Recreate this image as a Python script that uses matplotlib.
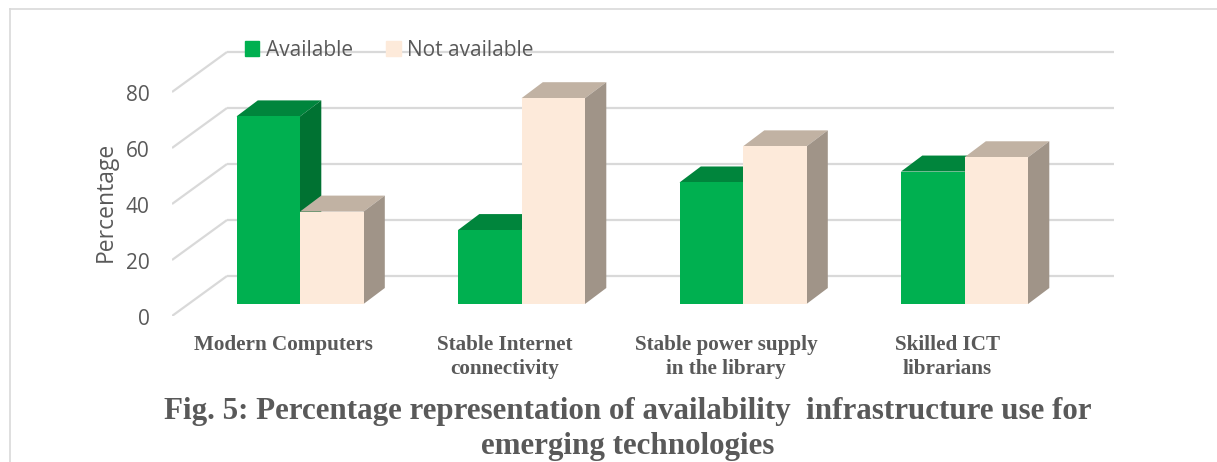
import matplotlib
matplotlib.use("Agg")
import matplotlib.pyplot as plt
from matplotlib.lines import Line2D
from matplotlib.patches import Patch
from matplotlib.transforms import ScaledTranslation

categories = ["Modern Computers", "Stable Internet\nconnectivity",
              "Stable power supply\nin the library", "Skilled ICT\nlibrarians"]
available = [67.0, 26.4, 43.4, 47.3]
not_available = [33.0, 73.5, 56.3, 52.4]
y_ticks = [0, 20, 40, 60, 80]
title = ("Fig. 5: Percentage representation of availability  infrastructure use for\n"
         "emerging technologies")

W, H = 1217, 462
PX_X = 221.5     # pixels per category
PX_Y = 2.8       # pixels per percent
BAR_W = 63.5 / PX_X
DX, DY = 21.3 / PX_X, 16 / PX_Y               # bar depth
WALL_DX, WALL_DY = 17 / PX_X, 12 / PX_Y       # bar front plane -> front of floor
BACK_DY = 28 / PX_Y                           # bar front plane -> back wall
GRID = "#D9D9D9"
TEXT = "#595959"
GREEN = ("#00B050", "#00853C", "#007232")
PEACH = ("#FDEADA", "#C1B2A3", "#A09488")
SANS = "Open Sans"
SERIF = "Liberation Serif"

fig = plt.figure(figsize=(W / 100, H / 100), dpi=100)
ax = fig.add_axes([172 / W, (H - 316) / H, (1135 - 172) / W, 286 / H])
ax.set_xlim((172 - 300) / PX_X, (1135 - 300) / PX_X)
ax.set_ylim(-WALL_DY, (304 - 30) / PX_Y)
for s in ax.spines.values():
    s.set_visible(False)

# walls
x_left = (227 - 300) / PX_X
x_right = (1114 - 300) / PX_X
for v in y_ticks:
    ax.plot([x_left - 55 / PX_X, x_left], [v - WALL_DY, v + BACK_DY], color=GRID, lw=1.6,
            solid_capstyle="butt", zorder=1)
    ax.plot([x_left, x_right], [v + BACK_DY, v + BACK_DY], color=GRID, lw=1.6,
            solid_capstyle="butt", zorder=1)


def box(x0, h, colors, z):
    x1 = x0 + BAR_W
    ax.fill([x0, x1, x1 + DX, x0 + DX], [h, h, h + DY, h + DY], color=colors[1], lw=0, zorder=z)
    ax.fill([x1, x1 + DX, x1 + DX, x1], [0, DY, h + DY, h], color=colors[2], lw=0, zorder=z)
    ax.bar(x0, h, BAR_W, align="edge", color=colors[0], lw=0, zorder=z + 0.1)


for i in range(len(categories)):
    box(i - BAR_W, available[i], GREEN, 2)
    box(i, not_available[i], PEACH, 3)

ax.set_yticks([v - WALL_DY for v in y_ticks], [str(v) for v in y_ticks],
              fontfamily=SANS, fontsize=15, color=TEXT)
ax.set_xticks([i - WALL_DX for i in range(len(categories))], categories,
              fontfamily=SERIF, fontweight="bold", fontsize=15.2, color=TEXT, linespacing=1.3)
ax.tick_params(axis="y", length=0, pad=16)
ax.tick_params(axis="x", length=0, pad=13.5)
# tick digits sit a little low in the reference
shift = ScaledTranslation(0, -1 / 100, fig.dpi_scale_trans)
for lab in ax.get_yticklabels():
    lab.set_transform(lab.get_transform() + shift)
ax.set_ylabel("Percentage", fontfamily=SANS, fontsize=16.5, color=TEXT)
ax.yaxis.set_label_coords((118 - 172) / (1135 - 172), (316 - 202) / 286)

handles = [Patch(color=GREEN[0], label="Available"), Patch(color=PEACH[0], label="Not available")]
fig.legend(handles=handles, loc="center left", bbox_to_anchor=(226 / W, (H - 50) / H),
           ncols=2, frameon=False, prop={"family": SANS, "size": 15}, labelcolor=TEXT,
           handlelength=0.7, handleheight=0.7, handletextpad=0.3, columnspacing=1.6)

fig.text(627.5 / W, (H - 429) / H, title, ha="center", va="center", fontfamily=SERIF,
         fontweight="bold", fontsize=22.3, color=TEXT, linespacing=1.24)

# chart frame
fig.add_artist(Line2D([10 / W, 1], [(H - 9) / H] * 2, color=GRID, lw=1.2))
fig.add_artist(Line2D([10 / W] * 2, [(H - 9) / H, 0], color=GRID, lw=1.2))

fig.savefig("out.png", dpi=100)
